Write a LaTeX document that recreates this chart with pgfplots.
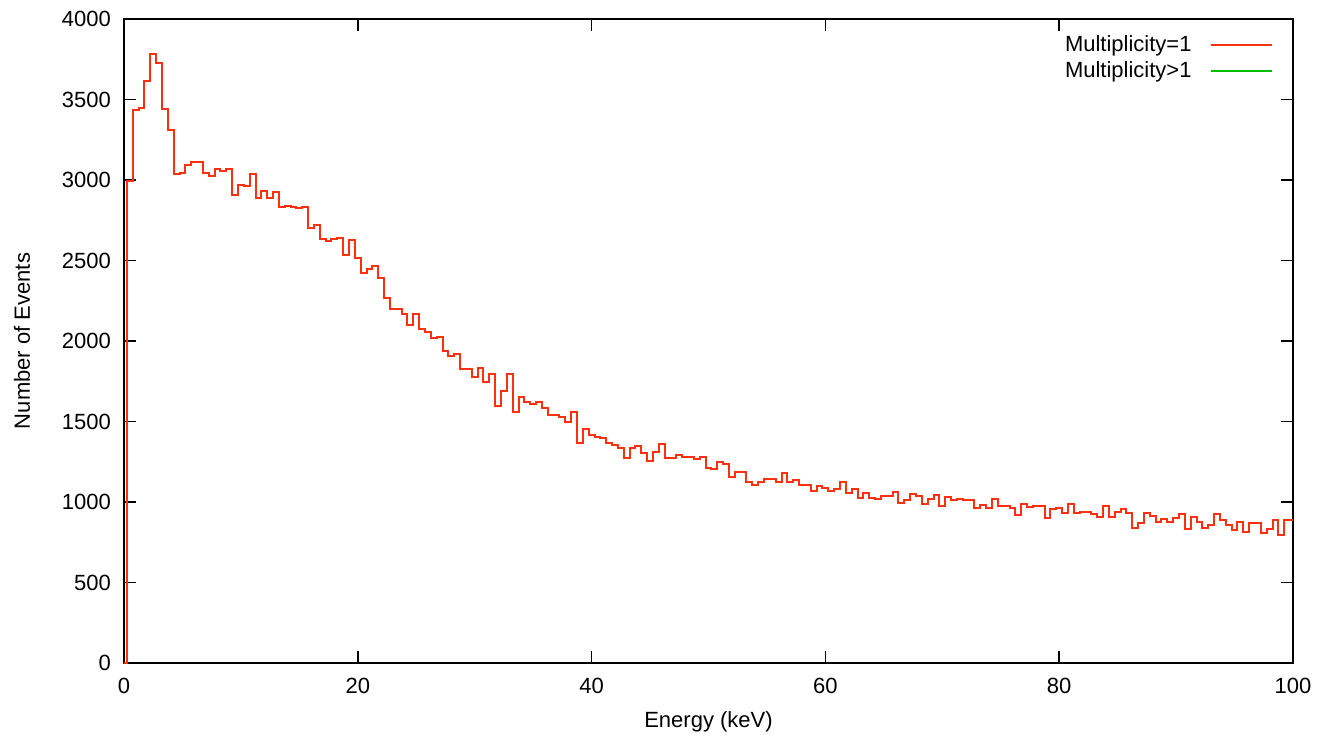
\documentclass[border=0pt]{standalone}
\usepackage{pgfplots}
\pgfplotsset{compat=1.18}
\usepackage{pgfplotstable}
\usepackage{fontspec}
\setmainfont{Liberation Sans}
\definecolor{gpred}{RGB}{255,48,16}
\definecolor{gpgreen}{RGB}{0,192,0}
\pgfplotstableread{
x y
0 0
0.5 2993
1 3432
1.5 3445
2 3612
2.5 3780
3 3724
3.5 3440
4 3310
4.5 3035
5 3045
5.5 3091
6 3111
6.5 3111
7 3045
7.5 3025
8 3070
8.5 3055
9 3070
9.5 2904
10 2967
10.5 2960
11 3035
11.5 2886
12 2930
12.5 2886
13 2925
13.5 2830
14 2840
14.5 2832
15 2825
15.5 2832
16 2704
16.5 2718
17 2635
17.5 2620
18 2631
18.5 2639
19 2534
19.5 2629
20 2513
20.5 2424
21 2445
21.5 2465
22 2393
22.5 2265
23 2196
23.5 2196
24 2165
24.5 2097
25 2165
25.5 2072
26 2055
26.5 2016
27 2027
27.5 1937
28 1906
28.5 1917
29 1824
29.5 1824
30 1778
30.5 1834
31 1745
31.5 1797
32 1596
32.5 1689
33 1792
33.5 1561
34 1654
34.5 1623
35 1610
35.5 1623
36 1585
36.5 1540
37 1540
37.5 1530
38 1497
38.5 1558
39 1368
39.5 1451
40 1416
40.5 1406
41 1395
41.5 1368
42 1352
42.5 1337
43 1271
43.5 1337
44 1347
44.5 1306
45 1254
45.5 1312
46 1358
46.5 1271
47 1271
47.5 1291
48 1281
48.5 1281
49 1269
49.5 1281
50 1213
50.5 1202
51 1248
51.5 1238
52 1157
52.5 1188
53 1188
53.5 1126
54 1103
54.5 1124
55 1145
55.5 1145
56 1124
56.5 1182
57 1124
57.5 1134
58 1103
58.5 1103
59 1068
59.5 1099
60 1084
60.5 1068
61 1082
61.5 1126
62 1053
62.5 1078
63 1027
63.5 1053
64 1027
64.5 1021
65 1037
65.5 1037
66 1064
66.5 996
67 1010
67.5 1052
68 1037
68.5 985
69 1016
69.5 1043
70 975
70.5 1033
71 1010
71.5 1021
72 1010
72.5 1010
73 965
73.5 979
74 965
74.5 1021
75 975
75.5 975
76 960
76.5 919
77 985
77.5 969
78 975
78.5 975
79 898
79.5 954
80 965
80.5 929
81 985
81.5 929
82 940
82.5 940
83 923
83.5 909
84 975
84.5 909
85 940
85.5 954
86 929
86.5 840
87 871
87.5 929
88 912
88.5 875
89 896
89.5 875
90 898
90.5 923
91 830
91.5 909
92 875
92.5 840
93 855
93.5 923
94 888
94.5 855
95 826
95.5 875
96 816
96.5 867
97 867
97.5 809
98 830
98.5 888
99 794
99.5 888
100 888
}\mult
\begin{document}
\begin{tikzpicture}
\useasboundingbox (-62pt,-38pt) rectangle (596.5pt,331.5pt);
\begin{axis}[
  at={(0,0)}, anchor=south west,
  scale only axis, width=584.5pt, height=322pt,
  xmin=0, xmax=100, ymin=0, ymax=4000,
  xtick={0,20,...,100}, ytick={0,500,...,4000},
  tick align=inside, major tick length=6pt,
  axis line style={line width=0.8pt},
  every tick/.style={black, line width=0.8pt},
  font=\fontsize{11}{13}\selectfont,
  /pgf/number format/assume math mode=true,
  /pgf/number format/1000 sep={},
  yticklabel style={xshift=-3pt},
  xticklabel style={yshift=-4pt},
  xlabel={Energy (keV)}, ylabel={Number of Events},
  xlabel style={at={(axis description cs:0.5,-0.0916)}, anchor=center},
  ylabel style={at={(axis description cs:-0.0873,0.5)}, anchor=center},
  legend style={draw=none, fill=none, at={(axis description cs:0.988,0.988)}, anchor=north east,
     font=\fontsize{11}{13}\selectfont, row sep=-0.5pt},
  legend cell align=right, legend plot pos=right,
  legend image code/.code={\path (0pt,0pt); \draw[#1] (7pt,0pt) -- (37.5pt,0pt);},
]
\addplot[const plot mark mid, color=gpred, line width=1pt] table[x=x,y=y] {\mult};
\addlegendentry{Multiplicity=1}
\addlegendimage{color=gpgreen, line width=1pt}
\addlegendentry{Multiplicity>1}
\end{axis}
\end{tikzpicture}
\end{document}
